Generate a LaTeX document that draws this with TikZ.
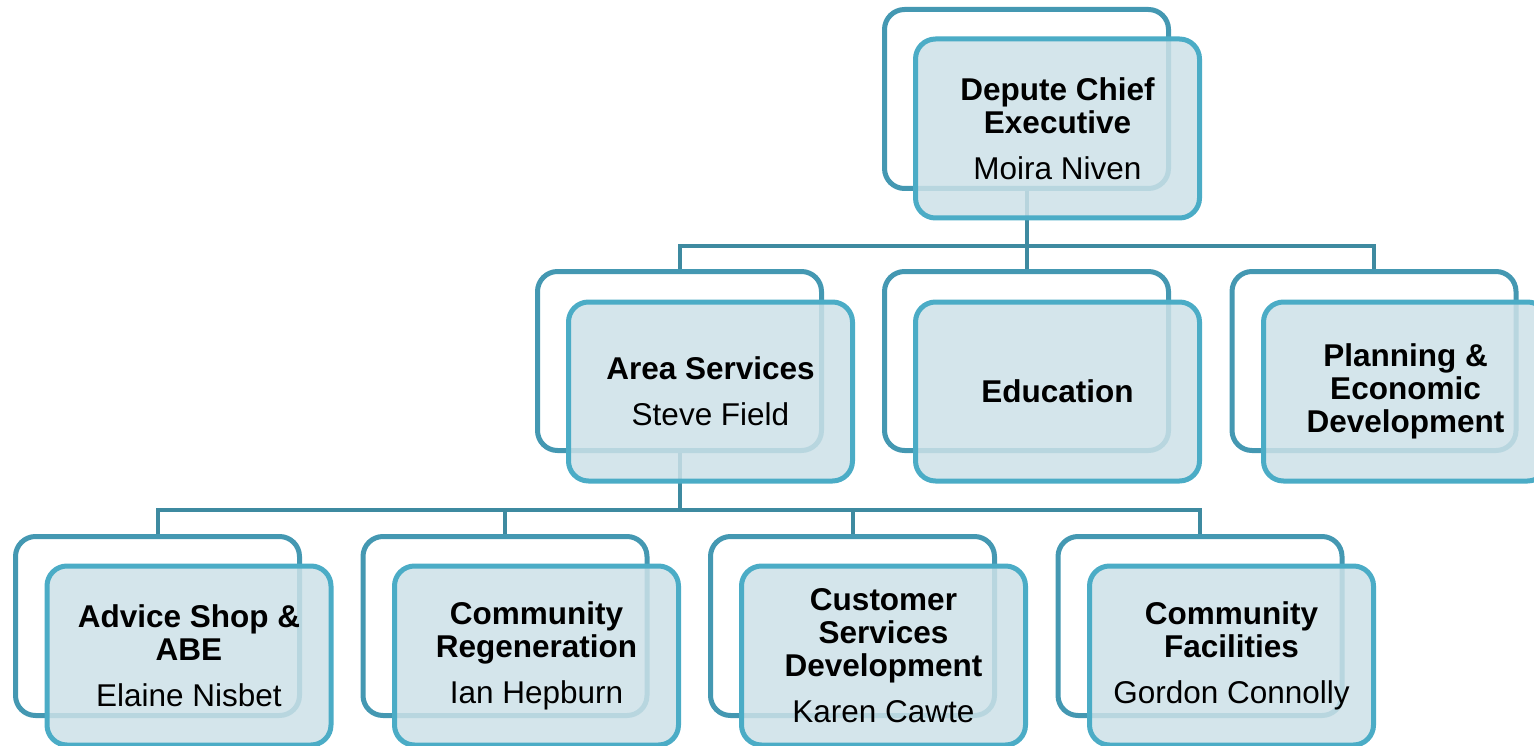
\documentclass[tikz,border=0pt]{standalone}
\usepackage{fontspec}
\setmainfont{Liberation Sans}
\definecolor{backline}{RGB}{68,152,178}
\definecolor{frontline}{RGB}{75,172,198}
\definecolor{frontfill}{RGB}{205,225,232}
\definecolor{linkline}{RGB}{62,138,160}
\tikzset{
  backbox/.style={draw=backline, line width=5pt, fill=white, rounded corners=20pt,
    minimum width=284pt, minimum height=179pt, inner sep=0pt},
  frontbox/.style={draw=frontline, line width=5pt, fill=frontfill, fill opacity=0.85,
    draw opacity=1, text opacity=1, rounded corners=20pt,
    minimum width=284pt, minimum height=179pt, inner sep=0pt, align=center,
    font=\fontsize{31.5}{33}\selectfont},
  link/.style={draw=linkline, line width=4pt}
}
\begin{document}
\begin{tikzpicture}[x=1pt, y=-1pt]
  \path[use as bounding box] (0,0) rectangle (1534,746);
  \clip (0,0) rectangle (1534,746);

  % shadow frames behind each post
  \node[backbox] (dceb)  at (1026.5, 99) {};
  \node[backbox] (areab) at (679.5, 361) {};
  \node[backbox] (edub)  at (1026.5, 361) {};
  \node[backbox] (planb) at (1374, 361) {};
  \node[backbox] (advb)  at (157.5, 626) {};
  \node[backbox] (regb)  at (505, 626) {};
  \node[backbox] (custb) at (852.5, 626) {};
  \node[backbox] (facb)  at (1200, 626) {};

  % reporting lines
  \coordinate (bus1) at (1026.5,246);
  \coordinate (bus2) at (679.5,510);
  \draw[link] (dceb.south) -- (bus1);
  \draw[link] (areab.north) |- (bus1) -| (planb.north);
  \draw[link] (bus1) -- (edub.north);
  \draw[link] (areab.south) -- (bus2);
  \draw[link] (advb.north) |- (bus2) -| (facb.north);
  \draw[link] (regb.north) |- (custb.north |- bus2) -- (custb.north);

  % posts
  \node[frontbox] (dce)  at (1057.5,128.5) {\bfseries Depute Chief\\\bfseries Executive\\[13pt]\mdseries Moira Niven};
  \node[frontbox] (area) at (710.5,391.5) {\bfseries Area Services\\[13pt]\mdseries Steve Field};
  \node[frontbox] (edu)  at (1057.5,391.5) {\bfseries Education};
  \node[frontbox] (plan) at (1405.5,391.5) {\bfseries Planning \&\\\bfseries Economic\\\bfseries Development};
  \node[frontbox] (adv)  at (189,655.5) {\bfseries Advice Shop \&\\\bfseries ABE\\[13pt]\mdseries Elaine Nisbet};
  \node[frontbox] (reg)  at (536.5,655.5) {\bfseries Community\\\bfseries Regeneration\\[13pt]\mdseries Ian Hepburn};
  \node[frontbox] (cust) at (883.5,655.5) {\bfseries Customer\\\bfseries Services\\\bfseries Development\\[13pt]\mdseries Karen Cawte};
  \node[frontbox] (fac)  at (1231.5,655.5) {\bfseries Community\\\bfseries Facilities\\[13pt]\mdseries Gordon Connolly};
\end{tikzpicture}
\end{document}
